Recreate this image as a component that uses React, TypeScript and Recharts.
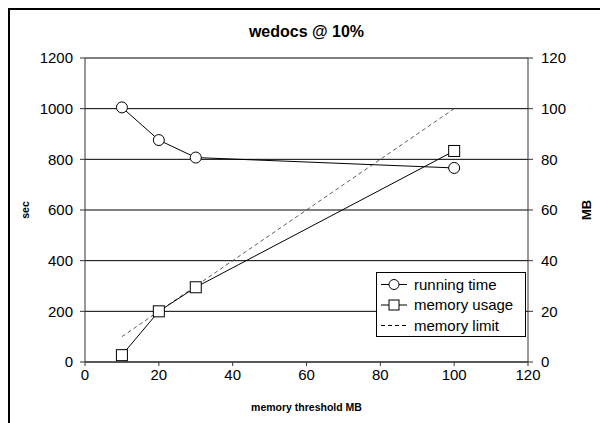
import React from "react";
import { ComposedChart, Line, XAxis, YAxis, CartesianGrid, Legend } from "recharts";

// memory threshold (MB)
const thresholds = [10, 20, 30, 100];
// running time (sec), left axis
const runningTime = [1005, 876, 807, 766];
// memory usage (MB), right axis
const memoryUsage = [2.7, 20, 29.5, 83.3];
// memory limit (MB), right axis
const memoryLimit = [10, 20, 30, 100];

const xTicks = [0, 20, 40, 60, 80, 100, 120];
const secTicks = [0, 200, 400, 600, 800, 1000, 1200];
const mbTicks = [0, 20, 40, 60, 80, 100, 120];

const data = thresholds.map((x, i) => ({
  x,
  run: runningTime[i],
  mem: memoryUsage[i],
  limit: memoryLimit[i],
}));

const FONT = "Arial, 'Liberation Sans', Helvetica, sans-serif";
const tickStyle = { fontSize: 15, fill: "#000", fontFamily: FONT };

function CircleDot(props: any) {
  const { cx, cy } = props;
  if (cx == null || cy == null) return null;
  return <circle cx={cx} cy={cy} r={5.5} fill="#fff" stroke="#000" strokeWidth={1} />;
}

function SquareDot(props: any) {
  const { cx, cy } = props;
  if (cx == null || cy == null) return null;
  return <rect x={cx - 5.5} y={cy - 5.5} width={11} height={11} fill="#fff" stroke="#000" strokeWidth={1} />;
}

function LegendBox() {
  const rows = [
    { label: "running time", kind: "circle" },
    { label: "memory usage", kind: "square" },
    { label: "memory limit", kind: "dash" },
  ];
  return (
    <svg width={150} height={65} style={{ display: "block" }}>
      <rect x={0.5} y={0.5} width={149} height={64} fill="#fff" stroke="#000" />
      {rows.map((r, i) => {
        const y = 12.5 + i * 20.5;
        return (
          <g key={r.label}>
            {r.kind === "dash" ? (
              <line x1={5} x2={31} y1={y} y2={y} stroke="#000" strokeDasharray="4 3" />
            ) : (
              <line x1={5} x2={31} y1={y} y2={y} stroke="#000" />
            )}
            {r.kind === "circle" && <circle cx={18} cy={y} r={5} fill="#fff" stroke="#000" />}
            {r.kind === "square" && <rect x={13} y={y - 5} width={10} height={10} fill="#fff" stroke="#000" />}
            <text x={38} y={y} dy="0.35em" fontSize={15} fontFamily={FONT} fill="#000">
              {r.label}
            </text>
          </g>
        );
      })}
    </svg>
  );
}

export default function App() {
  return (
    <div style={{ position: "absolute", left: 0, top: 0, width: 600, height: 423, overflow: "hidden", background: "#fff" }}>
      <div
        style={{
          position: "absolute",
          left: 8,
          top: 8,
          width: 640,
          height: 460,
          borderLeft: "2px solid #000",
          borderTop: "2px solid #000",
        }}
      />
      <div
        style={{
          position: "absolute",
          left: 85,
          width: 443,
          top: 23,
          textAlign: "center",
          fontFamily: FONT,
          fontWeight: "bold",
          fontSize: 16,
        }}
      >
        wedocs @ 10%
      </div>
      <div style={{ position: "absolute", left: 0, top: 0 }}>
        <ComposedChart width={600} height={423} data={data} margin={{ top: 58, right: 0, bottom: 0, left: 0 }}>
          <CartesianGrid yAxisId="sec" vertical={false} stroke="#000" strokeWidth={1} />
          <XAxis
            dataKey="x"
            type="number"
            domain={[0, 120]}
            ticks={xTicks}
            height={61}
            tick={tickStyle}
            tickSize={4}
            tickMargin={3}
            stroke="#333"
            label={{
              value: "memory threshold MB",
              position: "insideBottom",
              offset: 12,
              style: { fontSize: 10.5, fontWeight: "bold", fontFamily: FONT, fill: "#000" },
            }}
          />
          <YAxis
            yAxisId="sec"
            orientation="left"
            domain={[0, 1200]}
            ticks={secTicks}
            width={85}
            tick={tickStyle}
            tickSize={5}
            tickMargin={7}
            stroke="#333"
            label={{
              value: "sec",
              angle: -90,
              position: "insideLeft",
              offset: 25,
              style: { fontSize: 10.5, fontWeight: "bold", fontFamily: FONT, fill: "#000", textAnchor: "middle" },
            }}
          />
          <YAxis
            yAxisId="mb"
            orientation="right"
            domain={[0, 120]}
            ticks={mbTicks}
            width={72}
            tick={tickStyle}
            tickSize={5}
            tickMargin={8}
            stroke="#333"
            label={{
              value: "MB",
              angle: -90,
              position: "insideRight",
              offset: 14,
              style: { fontSize: 13, fontWeight: "bold", fontFamily: FONT, fill: "#000", textAnchor: "middle" },
            }}
          />
          <Line
            yAxisId="mb"
            dataKey="limit"
            stroke="#333"
            strokeWidth={0.8}
            strokeDasharray="4 3"
            dot={false}
            isAnimationActive={false}
          />
          <Line
            yAxisId="mb"
            dataKey="mem"
            stroke="#000"
            strokeWidth={1}
            dot={<SquareDot />}
            isAnimationActive={false}
          />
          <Line
            yAxisId="sec"
            dataKey="run"
            stroke="#000"
            strokeWidth={1}
            dot={<CircleDot />}
            isAnimationActive={false}
          />
          <Legend
            layout="vertical"
            align="center"
            verticalAlign="middle"
            content={() => <LegendBox />}
            wrapperStyle={{ position: "absolute", left: 376, top: 272, width: 150, height: 65 }}
          />
        </ComposedChart>
      </div>
    </div>
  );
}
